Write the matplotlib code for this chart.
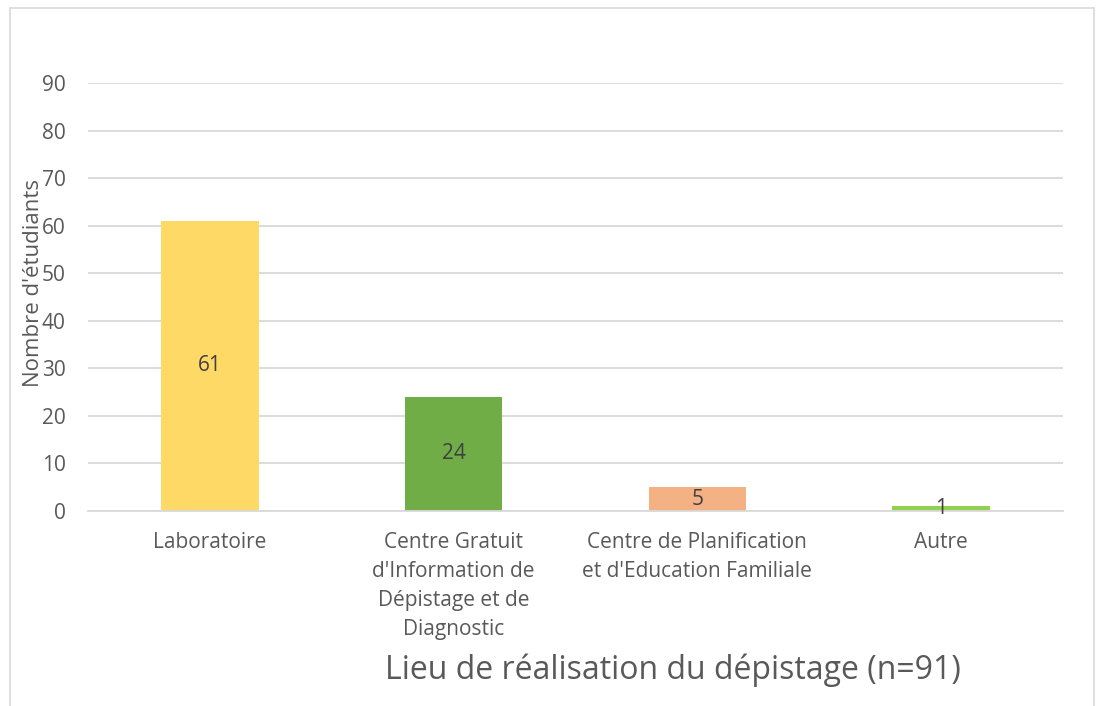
import matplotlib.pyplot as plt
from matplotlib.patches import Rectangle

categories = ["Laboratoire",
              "Centre Gratuit\nd'Information de\nDépistage et de\nDiagnostic",
              "Centre de Planification\net d'Education Familiale",
              "Autre"]
values = [61, 24, 5, 1]
colors = ["#FFD966", "#70AD47", "#F4B183", "#92D050"]
yticks = [0, 10, 20, 30, 40, 50, 60, 70, 80, 90]

plt.rcParams['font.family'] = ['Open Sans', 'DejaVu Sans']
text_color = "#595959"

W, H = 1101, 706
fig = plt.figure(figsize=(W / 100, H / 100), dpi=100)

# outer chart border
fig.patches.append(Rectangle((9.5 / W, -0.05), (1094 - 9.5) / W, 1.05 - 8.5 / H,
                             transform=fig.transFigure, fill=False,
                             edgecolor="#D9D9D9", linewidth=1.2))

ax = fig.add_axes([88 / W, 1 - 511 / H, (1063 - 88) / W, (511 - 83) / H])
x = range(len(categories))
bars = ax.bar(x, values, width=0.4, color=colors, zorder=2)

ax.set_xlim(-0.5, len(categories) - 0.5)
ax.set_ylim(0, 90)
ax.set_yticks(yticks)
ax.yaxis.grid(True, color="#D9D9D9", linewidth=1.3, zorder=0)
ax.set_axisbelow(True)
for s in ["top", "right", "left"]:
    ax.spines[s].set_visible(False)
ax.spines["bottom"].set_color("#D9D9D9")
ax.spines["bottom"].set_linewidth(1.3)
ax.tick_params(axis="both", length=0, colors=text_color, labelsize=15)
ax.tick_params(axis="y", pad=16)
ax.tick_params(axis="x", pad=15)
ax.set_xticks(list(x))
ax.set_xticklabels(categories, linespacing=1.5, va="top")

for i, v in enumerate(values):
    ax.text(i, v / 2, str(v), ha="center", va="center",
            fontsize=15, color="#404040", zorder=3)

fig.text(34 / W, 1 - 283 / H, "Nombre d'étudiants", rotation=90,
         ha="center", va="center", fontsize=16, color=text_color)
fig.text(673 / W, 1 - 670 / H, "Lieu de réalisation du dépistage (n=91)",
         ha="center", va="center", fontsize=23, color=text_color)

fig.savefig("out.png", dpi=100)
